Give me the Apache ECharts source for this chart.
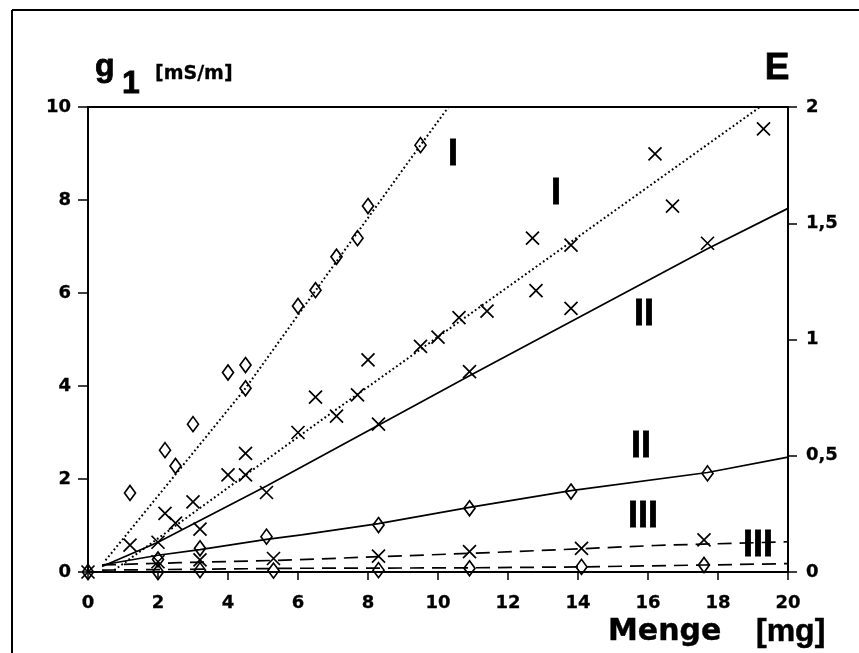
<!DOCTYPE html>
<html>
<head>
<meta charset="utf-8">
<script src="https://cdn.jsdelivr.net/npm/echarts@6/dist/echarts.min.js"></script>
<style>
html,body{margin:0;padding:0;background:#fff;}
#chart{width:859px;height:653px;}
</style>
</head>
<body>
<div id="chart"></div>
<script>
// ---- Data (x = Menge [mg]) ----
// Series I (g1 [mS/m], left axis)
const iDiaX = [0, 1.2, 2.2, 2.5, 3.0, 4.0, 4.5, 4.5, 6.0, 6.5, 7.1, 7.7, 8.0, 9.5];
const iDiaY = [0, 1.70, 2.62, 2.28, 3.18, 4.29, 4.45, 3.95, 5.72, 6.06, 6.78, 7.18, 7.87, 9.18];
const iCrsX = [0, 1.2, 2.2, 2.5, 3.0, 4.0, 4.5, 4.5, 6.0, 6.5, 7.1, 7.7, 8.0, 9.5, 10.0, 10.6, 11.4, 12.7, 12.8, 13.8, 16.2, 16.7, 19.3];
const iCrsY = [0, 0.58, 1.26, 1.05, 1.51, 2.09, 2.09, 2.55, 3.00, 3.76, 3.35, 3.81, 4.56, 4.85, 5.05, 5.47, 5.61, 7.18, 6.05, 7.03, 8.99, 7.87, 9.53];
const iDiaFitX = [0.5, 2.6, 4.5, 6.5, 9.5, 10.3];
const iDiaFitY = [0.25, 2.19, 3.95, 6.05, 9.18, 10.0];
const iCrsFitX = [0.75, 6.6, 19.2];
const iCrsFitY = [0.04, 3.23, 10.0];

// Series II and III (E, right axis)
const ptX = [2.0, 3.2, 5.1, 8.3, 10.9, 13.8, 17.7];
const iiDiaE = [0.054, 0.102, 0.152, 0.202, 0.274, 0.346, 0.424];
const iiCrsE = [0.128, 0.184, 0.342, 0.636, 0.862, 1.134, 1.414];
const iiiX = [2.0, 3.2, 5.3, 8.3, 10.9, 14.1, 17.6];
const iiiCrsE = [0.044, 0.052, 0.058, 0.068, 0.088, 0.102, 0.138];
const iiiDiaE = [0.0, 0.008, 0.006, 0.008, 0.016, 0.022, 0.030];

const iiDiaFitX = [0.4, 2.0, 3.2, 5.1, 6.1, 8.3, 10.9, 13.8, 17.7, 20];
const iiDiaFitE = [0.030, 0.072, 0.096, 0.140, 0.160, 0.208, 0.278, 0.350, 0.428, 0.494];
const iiCrsFitX = [0.4, 2.0, 5.1, 10.9, 17.7, 20];
const iiCrsFitE = [0.024, 0.128, 0.370, 0.844, 1.390, 1.564];
const iiiCrsFitX = [0.4, 2.6, 5.9, 8.3, 10.9, 14.1, 16.2, 20];
const iiiCrsFitE = [0.030, 0.040, 0.052, 0.066, 0.080, 0.100, 0.114, 0.130];
const iiiDiaFitX = [0.4, 6.0, 10.9, 14.1, 17.6, 20];
const iiiDiaFitE = [0.008, 0.016, 0.018, 0.022, 0.030, 0.036];

// Axis ticks
const xTicks = [0, 2, 4, 6, 8, 10, 12, 14, 16, 18, 20];
const yLeftTicks = [0, 2, 4, 6, 8, 10];
const yRightTicks = ['0', '0,5', '1', '1,5', '2'];

const zip = (a, b) => a.map((v, i) => [v, b[i]]);
const CROSS = 'path://M0,0L10,10M10,0L0,10';
const tickFont = {fontFamily: 'DejaVu Sans', fontWeight: 'bold', fontSize: 18, color: '#000',
  textBorderColor: '#000', textBorderWidth: 0.3};

function scat(name, xs, ys, sym, yi) {
  return {
    name, type: 'scatter', xAxisIndex: 0, yAxisIndex: yi,
    data: zip(xs, ys), symbol: sym,
    symbolSize: sym === 'diamond' ? [11, 15] : 13,
    itemStyle: {color: 'rgba(0,0,0,0)', borderColor: '#000', borderWidth: 1.7, opacity: 1},
    z: 5, silent: true
  };
}
function fit(name, xs, ys, type, yi) {
  return {
    name, type: 'line', xAxisIndex: 0, yAxisIndex: yi,
    data: zip(xs, ys), showSymbol: false, symbol: 'none',
    lineStyle: {color: '#000', width: type === 'dotted' ? 2 : 1.7,
      type: type === 'dotted' ? [1.8, 2.6] : (type === 'dashed' ? [14, 8] : 'solid')},
    z: 4, silent: true
  };
}

const chart = echarts.init(document.getElementById('chart'), null, {renderer: 'canvas'});
const rn = (txt, x, y, size) => ({
  type: 'text', x, y,
  style: {text: txt, fill: '#000', stroke: '#000', lineWidth: 0.8,
    font: 'bold ' + (size || 36) + 'px "Liberation Sans"',
    align: 'center', verticalAlign: 'middle', textAlign: 'center', textVerticalAlign: 'middle'}
});
const lt = (txt, x, y, font, sw) => ({
  type: 'text', x, y,
  style: {text: txt, fill: '#000', stroke: '#000', lineWidth: sw || 0, font,
    align: 'left', verticalAlign: 'middle', textAlign: 'left', textVerticalAlign: 'middle'}
});

chart.setOption({
  animation: false,
  backgroundColor: '#fff',
  grid: {left: 88, right: 71, top: 107, bottom: 81, show: true, borderColor: '#000', borderWidth: 2, backgroundColor: 'transparent'},
  xAxis: {
    type: 'value', min: 0, max: 20, interval: 2,
    axisLine: {show: true, onZero: false, lineStyle: {color: '#000', width: 2}},
    axisTick: {show: true, inside: false, length: 8, lineStyle: {color: '#000', width: 1.5}},
    axisLabel: Object.assign({margin: 22, formatter: v => xTicks.includes(v) ? String(v) : ''}, tickFont),
    splitLine: {show: false}
  },
  yAxis: [{
    type: 'value', min: 0, max: 10, interval: 2, position: 'left',
    axisLine: {show: true, onZero: false, lineStyle: {color: '#000', width: 2}},
    axisTick: {show: true, inside: false, length: 10, lineStyle: {color: '#000', width: 1.5}},
    axisLabel: Object.assign({margin: 17, formatter: v => yLeftTicks.includes(v) ? String(v) : ''}, tickFont),
    splitLine: {show: false}
  }, {
    type: 'value', min: 0, max: 2, interval: 0.5, position: 'right',
    axisLine: {show: true, onZero: false, lineStyle: {color: '#000', width: 1.6}},
    axisTick: {show: true, inside: false, length: 9, lineStyle: {color: '#000', width: 1.5}},
    axisLabel: Object.assign({margin: 18, formatter: v => yRightTicks[Math.round(v * 2)] || ''}, tickFont),
    splitLine: {show: false}
  }],
  graphic: [
    {type: 'line', shape: {x1: 12, y1: 10, x2: 859, y2: 10}, style: {stroke: '#000', lineWidth: 2}},
    {type: 'line', shape: {x1: 12, y1: 10, x2: 12, y2: 653}, style: {stroke: '#000', lineWidth: 2}},
    lt('g', 95, 67, 'bold 32px "Liberation Sans"', 0.8),
    rn('1', 131, 84, 32),
    lt('[mS/m]', 155, 74, 'bold 19px "DejaVu Sans"', 0.3),
    rn('E', 777, 69, 37),
    lt('Menge', 608, 632, 'bold 30px "DejaVu Sans"', 0.4),
    lt('[mg]', 756, 632, 'bold 32px "Liberation Sans"', 0.5),
    rn('I', 453, 155), rn('I', 556, 194),
    rn('II', 644, 315), rn('II', 641, 447),
    rn('III', 643, 517), rn('III', 758, 546)
  ],
  series: [
    fit('I fit diamonds', iDiaFitX, iDiaFitY, 'dotted', 0),
    fit('I fit crosses', iCrsFitX, iCrsFitY, 'dotted', 0),
    fit('II fit diamonds', iiDiaFitX, iiDiaFitE, 'solid', 1),
    fit('II fit crosses', iiCrsFitX, iiCrsFitE, 'solid', 1),
    fit('III fit crosses', iiiCrsFitX, iiiCrsFitE, 'dashed', 1),
    fit('III fit diamonds', iiiDiaFitX, iiiDiaFitE, 'dashed', 1),
    scat('I diamonds', iDiaX, iDiaY, 'diamond', 0),
    scat('I crosses', iCrsX, iCrsY, CROSS, 0),
    scat('II diamonds', ptX, iiDiaE, 'diamond', 1),
    scat('II crosses', ptX, iiCrsE, CROSS, 1),
    scat('III crosses', iiiX, iiiCrsE, CROSS, 1),
    scat('III diamonds', iiiX, iiiDiaE, 'diamond', 1)
  ]
});
</script>
</body>
</html>
